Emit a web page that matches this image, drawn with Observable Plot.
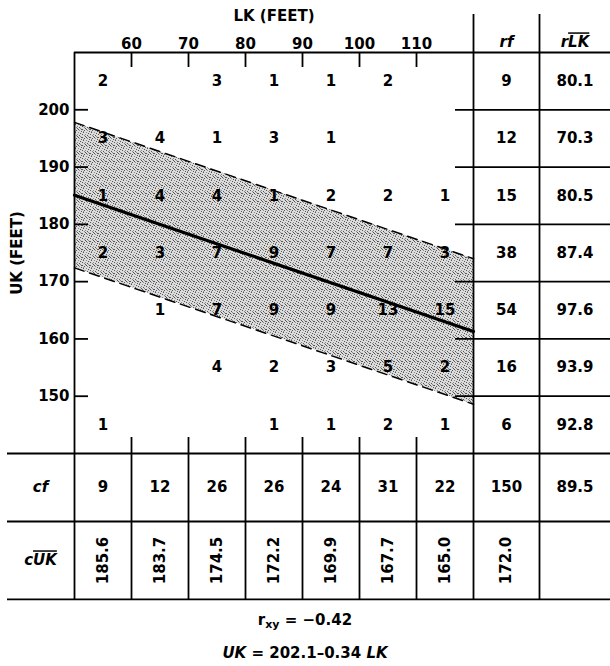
<!DOCTYPE html>
<html><head><meta charset="utf-8">
<script src="https://cdn.jsdelivr.net/npm/d3@7"></script>
<script src="https://cdn.jsdelivr.net/npm/@observablehq/plot@0.6"></script>
<style>
body{margin:0;background:#fff;font-family:"DejaVu Sans",sans-serif;color:#000;}
#footer{width:610px;text-align:center;font-weight:bold;font-size:15px;}
#footer div.l1{line-height:31px;height:31px;}
#footer div.l2{line-height:34px;height:34px;}
#footer sub{font-size:11px;vertical-align:-3px;}
</style></head><body>
<div id="chart"></div>
<div id="footer"></div>
<script>
// ---- data ----
const lkBins = [50, 60, 70, 80, 90, 100, 110];          // lower bound of each LK column (feet)
const ukBins = [200, 190, 180, 170, 160, 150, 140];      // lower bound of each UK row (feet)
const counts = [
  [2, 0, 3, 1, 1, 2, 0],
  [3, 4, 1, 3, 1, 0, 0],
  [1, 4, 4, 1, 2, 2, 1],
  [2, 3, 7, 9, 7, 7, 3],
  [0, 1, 7, 9, 9, 13, 15],
  [0, 0, 4, 2, 3, 5, 2],
  [1, 0, 0, 1, 1, 2, 1]
];
const rowF = [9, 12, 15, 38, 54, 16, 6];
const rowMeanLK = ["80.1", "70.3", "80.5", "87.4", "97.6", "93.9", "92.8"];
const colF = [9, 12, 26, 26, 24, 31, 22];
const colMeanUK = ["185.6", "183.7", "174.5", "172.2", "169.9", "167.7", "165.0"];
const totalF = "150", grandMeanLK = "89.5", grandMeanUK = "172.0";
const lkTicks = [60, 70, 80, 90, 100, 110];
const ukTicks = [150, 160, 170, 180, 190, 200];
const intercept = 202.1, slope = -0.34, rxy = -0.42;
const seBand = 12.7;   // half-width of the shaded band (feet)

// ---- layout helpers (data-space positions for the table margins) ----
const W = 5.7, H = 5.73;                 // px per foot
const X_RF = 120 + 33 / W, X_DIV = 120 + 66 / W, X_RLK = 120 + 101.5 / W, X_END = 120 + 140 / W;
const X_LAB = 50 - 34 / W, X_LEFT = 50 - 67 / W;
const Y_CF = 140 - 34 / H, Y_ROW2 = 140 - 68 / H, Y_CUK = 140 - 107 / H, Y_BOT = 140 - 146 / H;
const Y_HEAD = 210 + 10 / H, Y_TOP = 210 + 38 / H;

const cells = [];
counts.forEach((row, i) => row.forEach((n, j) => { if (n > 0) cells.push({LK: lkBins[j] + 5, UK: ukBins[i] + 5, n}); }));
const lineData = [50, 120].map(lk => ({LK: lk, UK: intercept + slope * lk}));

const txt = {fontSize: 15, fontWeight: "bold", fill: "black"};
const ln = {stroke: "black", strokeWidth: 1.8};

const chart = Plot.plot({
  width: 610, height: 605,
  marginLeft: 74, marginRight: 137, marginTop: 52, marginBottom: 152,
  x: {domain: [50, 120]},
  y: {domain: [140, 210]},
  style: {fontFamily: "DejaVu Sans, sans-serif", fontSize: "15px", fontWeight: "bold", background: "white", color: "black", overflow: "visible"},
  marks: [
    Plot.areaY(lineData, {x: "LK", y1: d => d.UK - seBand, y2: d => d.UK + seBand, fill: "url(#stip)"}),
    Plot.line(lineData, {x: "LK", y: d => d.UK + seBand, stroke: "black", strokeWidth: 1.5, strokeDasharray: "10,6"}),
    Plot.line(lineData, {x: "LK", y: d => d.UK - seBand, stroke: "black", strokeWidth: 1.5, strokeDasharray: "10,6"}),
    Plot.line(lineData, {x: "LK", y: "UK", stroke: "black", strokeWidth: 3.2}),
    // table lines
    Plot.ruleX([50], {y1: 210, y2: Y_BOT, ...ln}),
    Plot.ruleX([120, X_DIV], {y1: Y_TOP, y2: Y_BOT, ...ln}),
    Plot.ruleX(lkTicks, {y1: 140, y2: Y_BOT, ...ln}),
    Plot.ruleX(lkTicks, {y1: 210, y2: 210 - 15 / H, ...ln}),
    Plot.ruleX(lkTicks, {y1: 140, y2: 140 + 16 / H, ...ln}),
    Plot.ruleY([210], {x1: 50, x2: X_END, ...ln}),
    Plot.ruleY(ukTicks, {x1: 50, x2: 50 + 14 / W, ...ln}),
    Plot.ruleY(ukTicks, {x1: 120 - 18 / W, x2: X_END, ...ln}),
    Plot.ruleY([140, Y_ROW2, Y_BOT], {x1: X_LEFT, x2: X_END, ...ln}),
    // cell counts
    Plot.text(cells, {x: "LK", y: "UK", text: d => String(d.n), ...txt}),
    // row margins
    Plot.text(rowF, {x: () => X_RF, y: (d, i) => ukBins[i] + 5, text: d => String(d), ...txt}),
    Plot.text(rowMeanLK, {x: () => X_RLK, y: (d, i) => ukBins[i] + 5, text: d => d, ...txt}),
    // column margins
    Plot.text(colF, {x: (d, i) => lkBins[i] + 5, y: () => Y_CF, text: d => String(d), ...txt}),
    Plot.text(colMeanUK, {x: (d, i) => lkBins[i] + 5, y: () => Y_CUK, text: d => d, rotate: -90, ...txt}),
    Plot.text([totalF], {x: () => X_RF, y: () => Y_CF, text: d => d, ...txt}),
    Plot.text([grandMeanLK], {x: () => X_RLK, y: () => Y_CF, text: d => d, ...txt}),
    Plot.text([grandMeanUK], {x: () => X_RF, y: () => Y_CUK, text: d => d, rotate: -90, ...txt}),
    // headers
    Plot.text(["rf"], {x: () => X_RF, y: () => Y_HEAD, text: d => d, fontStyle: "italic", ...txt}),
    Plot.text(["rLK"], {x: () => X_RLK, y: () => Y_HEAD, text: d => d, fontStyle: "italic", ...txt}),
    Plot.text(["cf"], {x: () => X_LAB, y: () => Y_CF, text: d => d, fontStyle: "italic", ...txt}),
    Plot.text(["cUK"], {x: () => X_LAB, y: () => Y_CUK, text: d => d, fontStyle: "italic", ...txt}),
    // axes
    Plot.axisX(lkTicks, {anchor: "top", tickSize: 0, tickPadding: 4, label: null, fontSize: 15}),
    Plot.axisY(ukTicks, {anchor: "left", tickSize: 0, tickPadding: 5, label: null, fontSize: 15}),
    Plot.text(["LK (FEET)"], {frameAnchor: "top", dy: -36, lineAnchor: "middle", text: d => d, ...txt}),
    Plot.text(["UK (FEET)"], {frameAnchor: "left", dx: -57, rotate: -90, textAnchor: "middle", lineAnchor: "middle", text: d => d, ...txt})
  ]
});

const svg = d3.select(chart);
// overline on the mean symbols (r LK-bar, c UK-bar)
svg.selectAll("text").filter(function() { return this.textContent === "rLK" || this.textContent === "cUK"; })
  .each(function() {
    const t = this.textContent, head = t[0], rest = t.slice(1);
    const el = d3.select(this);
    el.text(null);
    el.append("tspan").text(head);
    el.append("tspan").attr("text-decoration", "overline").style("text-decoration", "overline").text(rest);
  });

// irregular stipple pattern for the shaded band
const pat = svg.insert("defs", ":first-child").append("pattern")
  .attr("id", "stip").attr("patternUnits", "userSpaceOnUse").attr("width", 8).attr("height", 8);
pat.append("rect").attr("width", 8).attr("height", 8).attr("fill", "#dcdcdc");
const dots = [[0,0],[5,0],[2,1],[7,2],[4,2],[1,3],[6,4],[3,4],[0,5],[5,6],[2,6],[7,7],[4,7],[1,1],[6,1],[3,3]];
dots.forEach(([a,b], k) => pat.append("rect").attr("x", a).attr("y", b).attr("width", 1).attr("height", 1)
  .attr("fill", k % 3 === 0 ? "#8a8a8a" : "#555"));

document.getElementById("chart").appendChild(chart);
document.getElementById("footer").innerHTML =
  `<div class="l1">r<sub>xy</sub> = ${String(rxy).replace("-", "\u2212")}</div>` +
  `<div class="l2"><i>UK</i> = ${intercept}\u2013${Math.abs(slope)} <i>LK</i></div>`;
</script>
</body></html>
